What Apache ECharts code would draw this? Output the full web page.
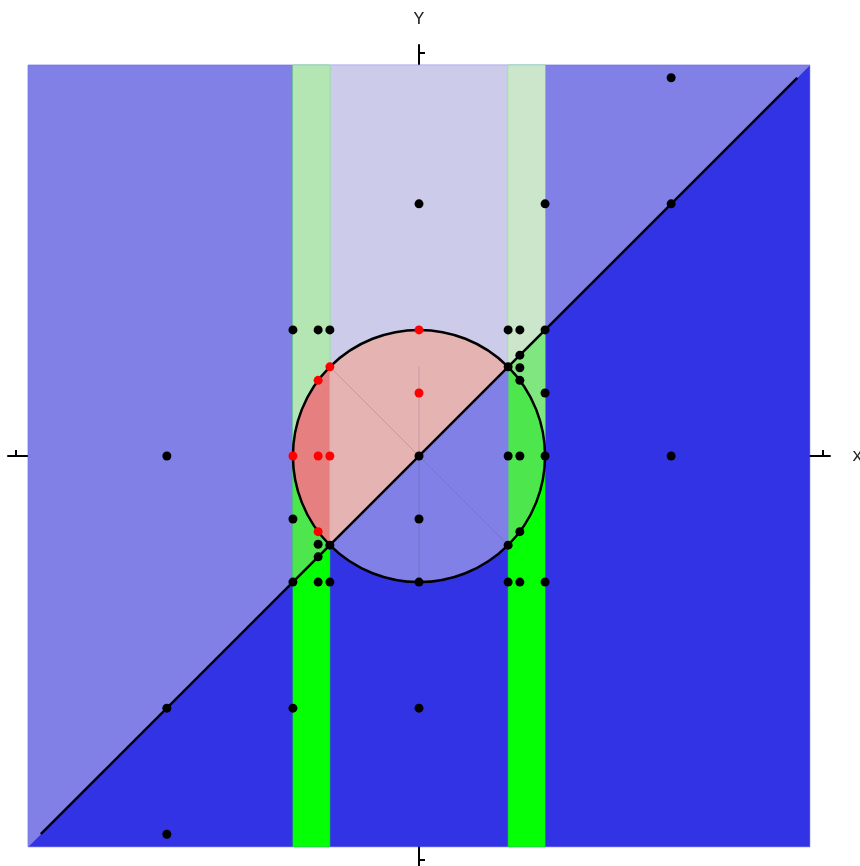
<!DOCTYPE html>
<html>
<head>
<meta charset="utf-8">
<script src="https://cdn.jsdelivr.net/npm/echarts@6/dist/echarts.min.js"></script>
<style>
  html, body { margin: 0; padding: 0; background: #fff; }
  #main { width: 860px; height: 866px; }
</style>
</head>
<body>
<div id="main"></div>
<script>
// axis range and ticks
const axisRange = [-3.26, 3.26];
const tickValues = [-3.2, 3.2];

// geometry of the regions (data units)
const L = 3.1;        // filled square half-size
const s = 0.707;      // inner strip edge
const radius = 1;
const diagonal = [[-3, -3], [3, 3]];

const square = [[-L, -L], [L, -L], [L, L], [-L, L]];
const upperTriangle = [[-L, -L], [L, L], [-L, L]];
const midUpper = [[-s, -s], [s, s], [s, L], [-s, L]];
const leftStrip = [[-1, -L], [-s, -L], [-s, L], [-1, L]];
const leftLow = [[-1, -1], [-s, -s], [-s, 0], [-1, 0]];
const leftHigh = [[-1, 0], [-s, 0], [-s, L], [-1, L]];
const rightStrip = [[s, -L], [1, -L], [1, L], [s, L]];
const rightMid = [[s, 0], [1, 0], [1, 1], [s, s]];
const rightHigh = [[s, s], [1, 1], [1, L], [s, L]];
const triUpper = [[0, 0], [-s, s], [-s, -s]];
const triLower = [[0, 0], [s, -s], [s, s]];

// sectors of the disk, degrees counter-clockwise
const halfUpper = [45, 225];
const wedgeUpper = [45, 135];
const halfLower = [225, 405];
const wedgeLower = [225, 315];

// faint seams inside the disk
const seams = [
  [[0, 0.707], [0, -1]],
  [[-0.707, 0.707], [0, 0]],
  [[0, 0], [0.707, -0.707]]
];

// points
const blackPoints = [
  [2, 3], [0, 2], [1, 2], [2, 2],
  [-1, 1], [-0.8, 1], [-0.707, 1], [0.707, 1], [0.8, 1], [1, 1],
  [0.8, 0.8], [0.707, 0.707], [0.8, 0.7], [0.8, 0.6], [1, 0.5],
  [-2, 0], [0, 0], [0.707, 0], [0.8, 0], [1, 0], [2, 0],
  [-1, -0.5], [0, -0.5],
  [-0.8, -0.7], [-0.707, -0.707], [-0.8, -0.8],
  [0.8, -0.6], [0.707, -0.707],
  [-1, -1], [-0.8, -1], [-0.707, -1], [0, -1], [0.707, -1], [0.8, -1], [1, -1],
  [-2, -2], [-1, -2], [0, -2],
  [-2, -3]
];
const redPoints = [
  [0, 1], [-0.707, 0.707], [-0.8, 0.6], [0, 0.5],
  [-1, 0], [-0.8, 0], [-0.707, 0], [-0.8, -0.6]
];

// paint order: [shape, color]
const layers = [
  [square, '#3333e6'],
  [upperTriangle, '#8080e6'],
  [midUpper, '#ccccea'],
  [leftStrip, '#05ff05'],
  [leftLow, '#4de64d'],
  [leftHigh, '#b3e6b3'],
  [rightStrip, '#05ff05'],
  [rightMid, '#80e680'],
  [rightHigh, '#cce6cc'],
  [halfUpper, '#e68080'],
  [wedgeUpper, '#e6b3b3'],
  [triUpper, '#e6b3b3'],
  [halfLower, '#4de64d'],
  [wedgeLower, '#8080e6'],
  [triLower, '#8080e6']
];

const myChart = echarts.init(document.getElementById('main'));

function renderLayer(params, api) {
  const [shape, color] = layers[params.dataIndex];
  const style = { fill: color, stroke: color, lineWidth: 0.5 };
  if (typeof shape[0] === 'number') {
    const c = api.coord([0, 0]);
    const r = api.size([radius, 0])[0];
    return {
      type: 'sector',
      shape: {
        cx: c[0], cy: c[1], r: r, r0: 0,
        startAngle: -shape[0] * Math.PI / 180,
        endAngle: -shape[1] * Math.PI / 180,
        clockwise: false
      },
      style: style
    };
  }
  return {
    type: 'polygon',
    shape: { points: shape.map(p => api.coord(p)) },
    style: style
  };
}

const axisCommon = {
  type: 'value',
  min: axisRange[0],
  max: axisRange[1],
  axisLine: { onZero: true, lineStyle: { color: '#000', width: 2 } },
  axisTick: { show: true, inside: true, length: 6, customValues: tickValues, lineStyle: { color: '#000', width: 2 } },
  axisLabel: { show: false },
  splitLine: { show: false },
  nameTextStyle: { fontFamily: 'Liberation Mono', fontSize: 18, color: '#222' }
};

const option = {
  animation: false,
  grid: { left: 8, top: 45, width: 822, height: 822, outerBoundsMode: 'none', containLabel: false },
  xAxis: Object.assign({}, axisCommon, { name: 'x', nameGap: 22 }),
  yAxis: Object.assign({}, axisCommon, { name: 'Y', nameGap: 17 }),
  series: [
    {
      type: 'custom',
      z: 2,
      renderItem: renderLayer,
      data: layers.map((l, i) => i)
    },
    {
      type: 'custom',
      z: 3,
      renderItem: function (params, api) {
        const seg = seams[params.dataIndex];
        return {
          type: 'polyline',
          shape: { points: seg.map(p => api.coord(p)) },
          style: { stroke: 'rgba(70,50,90,0.18)', lineWidth: 1, fill: null }
        };
      },
      data: seams.map((l, i) => i)
    },
    {
      type: 'line',
      z: 4,
      data: diagonal,
      showSymbol: false,
      lineStyle: { color: '#000', width: 2.5 }
    },
    {
      type: 'custom',
      z: 4,
      renderItem: function (params, api) {
        const c = api.coord([0, 0]);
        return {
          type: 'circle',
          shape: { cx: c[0], cy: c[1], r: api.size([radius, 0])[0] },
          style: { fill: null, stroke: '#000', lineWidth: 2.5 }
        };
      },
      data: [0]
    },
    {
      type: 'scatter',
      z: 5,
      data: blackPoints,
      symbolSize: 9,
      itemStyle: { color: '#000', opacity: 1 }
    },
    {
      type: 'scatter',
      z: 5,
      data: redPoints,
      symbolSize: 9,
      itemStyle: { color: '#ff0000', opacity: 1 }
    }
  ]
};

myChart.setOption(option);
</script>
</body>
</html>
